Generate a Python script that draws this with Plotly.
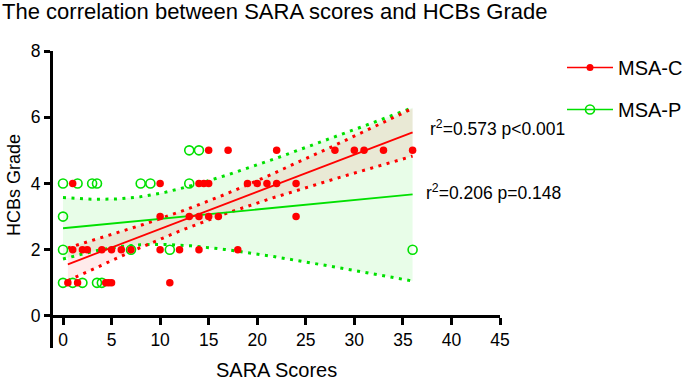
import math
import numpy as np
import plotly.graph_objects as go

# ---------------- data ----------------
msa_c_x = [15, 17, 22, 28, 30, 31, 33, 36,
           1, 10, 14, 14.5, 15, 19, 20, 21, 22, 24,
           10, 13, 14, 15, 16, 24,
           1, 2, 2.5, 4, 5, 6, 7, 10, 12, 14, 18,
           0.5, 1.5, 4.4, 4.7, 5, 11]
msa_c_y = [5, 5, 5, 5, 5, 5, 5, 5,
           4, 4, 4, 4, 4, 4, 4, 4, 4, 4,
           3, 3, 3, 3, 3, 3,
           2, 2, 2, 2, 2, 2, 2, 2, 2, 2, 2,
           1, 1, 1, 1, 1, 1]

msa_p_x = [13, 14,
           0, 1.5, 3, 3.5, 8, 9, 13,
           0,
           0, 7, 11, 36,
           0, 1, 2, 3.5, 4]
msa_p_y = [5, 5,
           4, 4, 4, 4, 4, 4, 4,
           3,
           2, 2, 2, 2,
           1, 1, 1, 1, 1]

x_ticks = [0, 5, 10, 15, 20, 25, 30, 35, 40, 45]
y_ticks = [0, 2, 4, 6, 8]
stat_c = "r<sup>2</sup>=0.573 p<0.001"
stat_p = "r<sup>2</sup>=0.206 p=0.148"
title_text = "The correlation between SARA scores and HCBs Grade"
x_title = "SARA Scores"
y_title = "HCBs Grade"

RED = "#ff0000"
GREEN = "#00e000"
FONT = "Liberation Sans, Arial, sans-serif"


def t_ppf(q, df):
    c = math.gamma((df + 1) / 2) / (math.sqrt(df * math.pi) * math.gamma(df / 2))

    def cdf(t):
        xs = np.linspace(0, t, 4001)
        pdf = c * (1 + xs ** 2 / df) ** (-(df + 1) / 2)
        return 0.5 + np.trapezoid(pdf, xs)

    lo, hi = 0.0, 20.0
    for _ in range(60):
        mid = (lo + hi) / 2
        if cdf(mid) < q:
            lo = mid
        else:
            hi = mid
    return (lo + hi) / 2


def fit(xv, yv):
    x = np.asarray(xv, float)
    y = np.asarray(yv, float)
    n = len(x)
    slope, intercept = np.polyfit(x, y, 1)
    res = y - (slope * x + intercept)
    s = math.sqrt(np.sum(res ** 2) / (n - 2))
    mx = x.mean()
    sxx = np.sum((x - mx) ** 2)
    t = t_ppf(0.975, n - 2)
    g = np.linspace(x.min(), x.max(), 200)
    yh = slope * g + intercept
    half = t * s * np.sqrt(1 / n + (g - mx) ** 2 / sxx)
    return g, yh, yh - half, yh + half


gc, yc, lc, uc = fit(msa_c_x, msa_c_y)
gp, yp, lp, up = fit(msa_p_x, msa_p_y)

fig = go.Figure()

# confidence bands
fig.add_trace(go.Scatter(x=np.concatenate([gp, gp[::-1]]), y=np.concatenate([up, lp[::-1]]),
                         fill="toself", fillcolor="rgba(0,230,0,0.09)", line=dict(width=0),
                         mode="lines", hoverinfo="skip", showlegend=False))
fig.add_trace(go.Scatter(x=np.concatenate([gc, gc[::-1]]), y=np.concatenate([uc, lc[::-1]]),
                         fill="toself", fillcolor="rgba(255,0,0,0.08)", line=dict(width=0),
                         mode="lines", hoverinfo="skip", showlegend=False))
for yy in (up, lp):
    fig.add_trace(go.Scatter(x=gp, y=yy, mode="lines", showlegend=False, hoverinfo="skip",
                             line=dict(color=GREEN, width=3, dash="3px,5.5px")))
for yy in (uc, lc):
    fig.add_trace(go.Scatter(x=gc, y=yy, mode="lines", showlegend=False, hoverinfo="skip",
                             line=dict(color=RED, width=3, dash="3px,5.5px")))
# fitted lines
fig.add_trace(go.Scatter(x=gp, y=yp, mode="lines", showlegend=False,
                         line=dict(color=GREEN, width=1.8)))
fig.add_trace(go.Scatter(x=gc, y=yc, mode="lines", showlegend=False,
                         line=dict(color=RED, width=1.8)))
# points
fig.add_trace(go.Scatter(x=msa_p_x, y=msa_p_y, mode="markers", showlegend=False,
                         marker=dict(symbol="circle-open", size=9, color=GREEN, line=dict(width=1.6))))
fig.add_trace(go.Scatter(x=msa_c_x, y=msa_c_y, mode="markers", showlegend=False,
                         marker=dict(symbol="circle", size=7.5, color=RED)))
# legend entries
fig.add_trace(go.Scatter(x=[None], y=[None], mode="lines+markers", name="MSA-C", legendgroup="c",
                         line=dict(color=RED, width=1.5),
                         marker=dict(symbol="circle", size=7, color=RED)))
fig.add_trace(go.Scatter(x=[None], y=[None], mode="lines+markers", name="MSA-P", legendgroup="p",
                         line=dict(color=GREEN, width=1.5),
                         marker=dict(symbol="circle-open", size=9, color=GREEN, line=dict(width=1.6))))

y_lo, y_hi = -0.967, 8
fig.update_layout(
    width=685, height=380, autosize=False,
    margin=dict(l=53, r=185, t=51, b=32, autoexpand=False),
    paper_bgcolor="white", plot_bgcolor="white",
    font=dict(family=FONT, color="black"),
    title=dict(text=title_text, x=0.003, xref="container", xanchor="left",
               y=1 - 11 / 380, yref="container", yanchor="middle",
               font=dict(size=22, family=FONT, color="black")),
    xaxis=dict(range=[-1.03, 45], tickvals=x_ticks, showline=True, linewidth=3, linecolor="black",
               ticks="outside", ticklen=7, tickwidth=2.5, tickcolor="black",
               showgrid=False, zeroline=False, anchor="free",
               position=(0 - y_lo) / (y_hi - y_lo), tickfont=dict(size=17.5), automargin=False),
    yaxis=dict(range=[y_lo, y_hi], tickvals=y_ticks, showline=True, linewidth=3, linecolor="black",
               ticks="outside", ticklen=6, tickwidth=2.5, tickcolor="black",
               showgrid=False, zeroline=False, tickfont=dict(size=17.5), automargin=False),
    legend=dict(x=(562 - 53) / 447, y=(348 - 48) / 297, xanchor="left", yanchor="top",
                font=dict(size=20, family=FONT), tracegroupgap=13, itemwidth=46,
                bgcolor="rgba(0,0,0,0)"),
    showlegend=True,
)

fig.add_annotation(text=stat_c, xref="paper", yref="paper", x=(428 - 53) / 447,
                   y=(348 - 128) / 297, xanchor="left", yanchor="middle", showarrow=False,
                   font=dict(size=17.5, family=FONT))
fig.add_annotation(text=stat_p, xref="paper", yref="paper", x=(424 - 53) / 447,
                   y=(348 - 192) / 297, xanchor="left", yanchor="middle", showarrow=False,
                   font=dict(size=17.5, family=FONT))
fig.add_annotation(text=x_title, xref="paper", yref="paper", x=0.5,
                   y=(348 - 370) / 297, xanchor="center", yanchor="middle", showarrow=False,
                   font=dict(size=20, family=FONT))
fig.add_annotation(text=y_title, xref="paper", yref="paper", x=(14 - 53) / 447,
                   y=(348 - 185) / 297, xanchor="center", yanchor="middle", showarrow=False,
                   textangle=-90, font=dict(size=18, family=FONT))

fig.write_html("out.html", config={"displayModeBar": False},
               post_script="document.body.style.margin='0';document.body.style.padding='0';")
